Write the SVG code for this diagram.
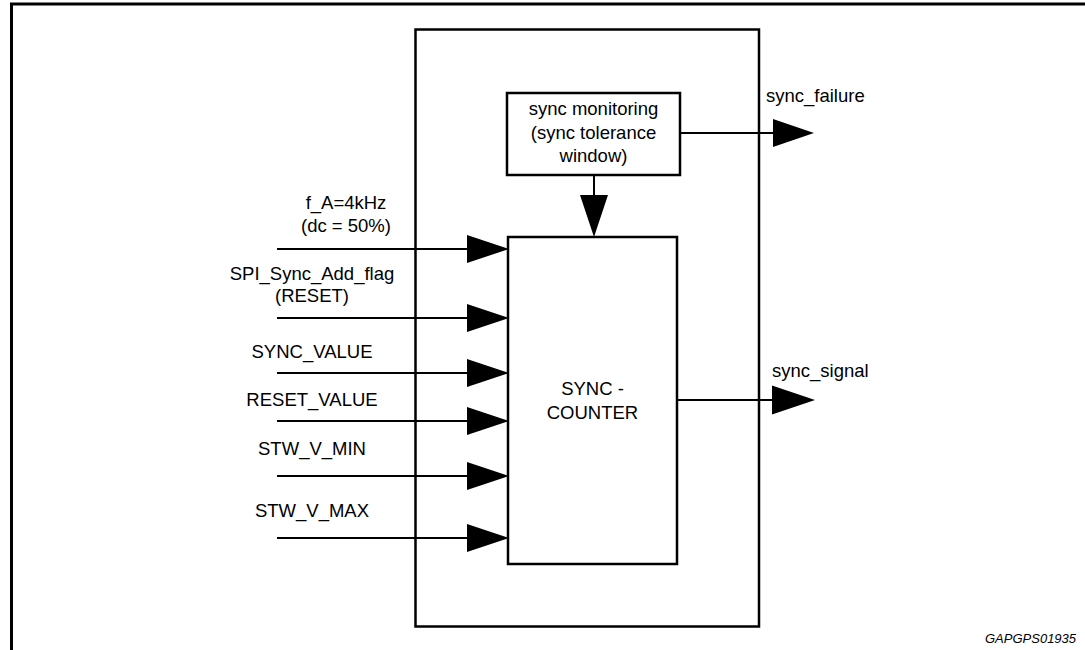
<svg xmlns="http://www.w3.org/2000/svg" width="1085" height="650" viewBox="0 0 1085 650">
<style>
.box{fill:none;stroke:#000;stroke-width:2.5}
.ln{fill:none;stroke:#000;stroke-width:2}
.ah{fill:#000;stroke:none}
.t{font-family:"Liberation Sans",Arial,sans-serif;font-size:18.5px;fill:#000}
.m{text-anchor:middle}
.fn{font-family:"Liberation Sans",Arial,sans-serif;font-size:13px;font-style:italic;fill:#000}
</style>
<rect width="1085" height="650" fill="#fff"/>
<path d="M11.5,650 V4 H1085" fill="none" stroke="#000" stroke-width="3"/>
<g id="outer-block"><rect class="box" x="415.5" y="29.5" width="343.5" height="597"/></g>
<g id="sync-monitoring">
<rect class="box" x="507" y="93" width="173" height="82"/>
<text class="t m" x="593.5" y="115">sync monitoring</text>
<text class="t m" x="593.5" y="138.5">(sync tolerance</text>
<text class="t m" x="593.5" y="162">window)</text>
</g>
<g id="sync-counter">
<rect class="box" x="508" y="237" width="169" height="327"/>
<text class="t m" x="592.5" y="395">SYNC -</text>
<text class="t m" x="592.5" y="418.5">COUNTER</text>
</g>
<g id="connectors">
<line class="ln" x1="277" y1="249" x2="470" y2="249"/><polygon class="ah" points="467,235 509,249 467,263"/>
<line class="ln" x1="277" y1="318" x2="470" y2="318"/><polygon class="ah" points="467,304 509,318 467,332"/>
<line class="ln" x1="277" y1="373" x2="470" y2="373"/><polygon class="ah" points="467,359 509,373 467,387"/>
<line class="ln" x1="277" y1="421" x2="470" y2="421"/><polygon class="ah" points="467,407 509,421 467,435"/>
<line class="ln" x1="277" y1="476" x2="470" y2="476"/><polygon class="ah" points="467,462 509,476 467,490"/>
<line class="ln" x1="277" y1="538" x2="470" y2="538"/><polygon class="ah" points="467,524 509,538 467,552"/>
<line class="ln" x1="594" y1="175" x2="594" y2="198"/><polygon class="ah" points="580,195 608,195 594,237"/>
<line class="ln" x1="680" y1="133" x2="776" y2="133"/><polygon class="ah" points="773,119 814,133 773,147"/>
<line class="ln" x1="677" y1="400" x2="775" y2="400"/><polygon class="ah" points="772,385.5 815,400 772,414.5"/>
</g>
<g id="labels">
<text class="t m" x="346" y="209">f_A=4kHz</text>
<text class="t m" x="346" y="232">(dc = 50%)</text>
<text class="t m" x="312" y="280">SPI_Sync_Add_flag</text>
<text class="t m" x="312" y="302">(RESET)</text>
<text class="t m" x="312" y="358">SYNC_VALUE</text>
<text class="t m" x="312" y="406">RESET_VALUE</text>
<text class="t m" x="312" y="455">STW_V_MIN</text>
<text class="t m" x="312" y="517">STW_V_MAX</text>
<text class="t" x="766" y="102">sync_failure</text>
<text class="t" x="772" y="377">sync_signal</text>
<text class="fn" x="985" y="643">GAPGPS01935</text>
</g>
</svg>
